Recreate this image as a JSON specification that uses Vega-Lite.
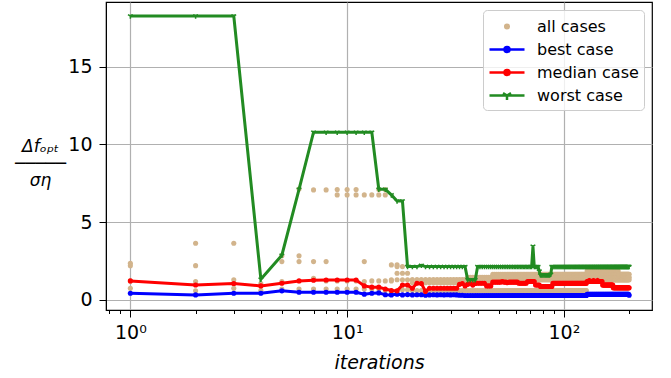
{
"$schema":"https://vega.github.io/schema/vega-lite/v6.json",
"width":546,"height":308,
"autosize":{"type":"none"},
"padding":{"left":106,"top":2,"right":19,"bottom":68},
"config":{"font":"DejaVu Sans","view":{"stroke":"black","strokeWidth":1.2},
"axis":{"domainColor":"black","tickColor":"black","labelColor":"black","titleColor":"black","labelFont":"DejaVu Sans","titleFont":"DejaVu Sans","labelFontSize":19,"titleFontSize":19,"titleFontWeight":"normal","gridColor":"#b0b0b0","gridWidth":1.2},
"legend":{"title":null,"orient":"top-right","offset":8,"padding":5,"fillColor":"rgba(255,255,255,0.8)","strokeColor":"#cccccc","cornerRadius":4,"labelFontSize":16,"labelFont":"DejaVu Sans","labelColor":"black","symbolSize":400,"symbolOffset":7.5,"labelOffset":18.5,"rowPadding":3}},
"data":{"values":[
{"i":1,"b":0.43,"m":1.22,"w":18.25,"a":[2.36,2.2,1.22,0.75]},
{"i":2,"b":0.32,"m":0.96,"w":18.25,"a":[3.64,2.2,1.18,0.58]},
{"i":3,"b":0.43,"m":1.05,"w":18.25,"a":[3.64,1.29,1.07,0.75]},
{"i":4,"b":0.43,"m":0.9,"w":1.33,"a":[1.05,0.6]},
{"i":5,"b":0.58,"m":1.07,"w":2.87,"a":[2.83,2.46,1.18,0.69]},
{"i":6,"b":0.49,"m":1.22,"w":7.11,"a":[7.13,2.83,2.46,0.7]},
{"i":7,"b":0.49,"m":1.26,"w":10.78,"a":[7.07,2.46,1.39,0.7]},
{"i":8,"b":0.49,"m":1.28,"w":10.78,"a":[7.07,2.46,1.22,0.7]},
{"i":9,"b":0.49,"m":1.28,"w":10.78,"a":[7.1,6.75,1.22,0.7]},
{"i":10,"b":0.49,"m":1.28,"w":10.78,"a":[7.1,6.75,1.22,0.7]},
{"i":11,"b":0.49,"m":1.28,"w":10.78,"a":[7.1,6.75,1.22,0.7]},
{"i":12,"b":0.37,"m":0.9,"w":10.78,"a":[6.75,2.46,1.18,0.7]},
{"i":13,"b":0.43,"m":0.82,"w":10.78,"a":[6.75,1.22,0.7]},
{"i":14,"b":0.45,"m":0.82,"w":7.11,"a":[7.1,6.75,1.22,0.7]},
{"i":15,"b":0.33,"m":0.7,"w":7.11,"a":[7.1,6.75,1.22,0.6]},
{"i":16,"b":0.32,"m":0.6,"w":6.75,"a":[2.25,1.29,1.22,0.5]},
{"i":17,"b":0.37,"m":0.58,"w":6.36,"a":[2.25,2.14,1.71,1.29,0.5]},
{"i":18,"b":0.32,"m":0.96,"w":6.36,"a":[2.14,1.71,1.29,0.65]},
{"i":19,"b":0.34,"m":0.96,"w":2.14,"a":[1.71,1.29,0.65]},
{"i":20,"b":0.32,"m":0.75,"w":2.14,"a":[1.3,1.1,0.6]},
{"i":21,"b":0.33,"m":1.07,"w":2.14,"a":[1.3,1.1,0.6]},
{"i":22,"b":0.33,"m":1.05,"w":2.22,"a":[1.3,1.1,0.6]},
{"i":23,"b":0.3,"m":0.54,"w":2.14,"a":[1.3,1.1,0.6]},
{"i":24,"b":0.32,"m":0.75,"w":2.14,"a":[1.3,1.1,0.6]},
{"i":25,"b":0.33,"m":0.75,"w":2.14,"a":[1.3,1.1,0.6]},
{"i":26,"b":0.32,"m":0.75,"w":2.14,"a":[1.3,1.1,0.6]},
{"i":27,"b":0.33,"m":0.75,"w":2.14,"a":[1.3,1.1,0.6]},
{"i":28,"b":0.32,"m":0.75,"w":2.14,"a":[1.3,1.1,0.6]},
{"i":29,"b":0.33,"m":0.75,"w":2.14,"a":[1.3,1.1,0.6]},
{"i":30,"b":0.32,"m":0.75,"w":2.14,"a":[1.3,1.1,0.6]},
{"i":31,"b":0.33,"m":0.75,"w":2.14,"a":[1.3,1.1,0.6]},
{"i":32,"b":0.32,"m":0.75,"w":2.14,"a":[1.3,1.1,0.6]},
{"i":33,"b":0.3,"m":1.0,"w":2.14,"a":[1.3,1.1,0.6]},
{"i":34,"b":0.3,"m":1.05,"w":2.14,"a":[1.3,1.1,0.6]},
{"i":35,"b":0.28,"m":0.9,"w":2.14,"a":[1.3,1.1,0.6]},
{"i":36,"b":0.28,"m":1.0,"w":1.29,"a":[1.45,1.3,1.1,0.6]},
{"i":37,"b":0.28,"m":1.05,"w":1.29,"a":[1.45,1.3,1.1,0.6]},
{"i":38,"b":0.28,"m":0.95,"w":1.29,"a":[1.45,1.3,1.1,0.6]},
{"i":39,"b":0.28,"m":1.05,"w":1.29,"a":[1.45,1.3,1.1,0.6]},
{"i":40,"b":0.28,"m":1.07,"w":2.14,"a":[1.45,1.3,1.1,0.6]},
{"i":41,"b":0.28,"m":1.07,"w":2.14,"a":[1.45,1.3,1.1,0.6]},
{"i":42,"b":0.28,"m":1.07,"w":2.14,"a":[1.45,1.3,1.1,0.6]},
{"i":43,"b":0.28,"m":1.07,"w":2.14,"a":[1.45,1.3,1.1,0.6]},
{"i":44,"b":0.28,"m":0.9,"w":2.14,"a":[1.45,1.3,1.1,0.6]},
{"i":45,"b":0.28,"m":0.9,"w":2.14,"a":[1.45,1.3,1.1,0.6]},
{"i":46,"b":0.28,"m":0.9,"w":2.14,"a":[1.45,1.3,1.1,0.6]},
{"i":47,"b":0.28,"m":1.14,"w":2.14,"a":[1.65,1.45,1.3,0.6]},
{"i":48,"b":0.28,"m":1.14,"w":2.14,"a":[1.65,1.45,1.3,0.6]},
{"i":49,"b":0.28,"m":1.14,"w":2.14,"a":[1.65,1.45,1.3,0.6]},
{"i":50,"b":0.28,"m":1.14,"w":2.14,"a":[1.65,1.45,1.3,0.6]},
{"i":51,"b":0.28,"m":1.14,"w":2.14,"a":[1.65,1.45,1.3,0.6]},
{"i":52,"b":0.28,"m":1.18,"w":2.14,"a":[1.65,1.45,1.3,0.6]},
{"i":53,"b":0.28,"m":1.14,"w":2.14,"a":[1.65,1.45,1.3,0.6]},
{"i":54,"b":0.28,"m":1.14,"w":2.14,"a":[1.65,1.45,1.3,0.6]},
{"i":55,"b":0.28,"m":1.1,"w":2.14,"a":[1.65,1.45,1.3,0.6]},
{"i":56,"b":0.28,"m":1.14,"w":2.14,"a":[1.65,1.45,1.3,0.6]},
{"i":57,"b":0.28,"m":1.14,"w":2.14,"a":[1.65,1.45,1.3,0.6]},
{"i":58,"b":0.28,"m":1.14,"w":2.14,"a":[1.65,1.45,1.3,0.6]},
{"i":59,"b":0.28,"m":1.14,"w":2.14,"a":[1.65,1.45,1.3,0.6]},
{"i":60,"b":0.28,"m":1.14,"w":2.14,"a":[1.65,1.45,1.3,0.6]},
{"i":61,"b":0.28,"m":1.14,"w":2.14,"a":[1.65,1.45,1.3,0.6]},
{"i":62,"b":0.28,"m":1.07,"w":2.14,"a":[1.65,1.45,1.3,0.6]},
{"i":63,"b":0.28,"m":1.07,"w":2.14,"a":[1.65,1.45,1.3,0.6]},
{"i":64,"b":0.28,"m":1.07,"w":2.14,"a":[1.65,1.45,1.3,0.6]},
{"i":65,"b":0.28,"m":1.07,"w":2.14,"a":[1.65,1.45,1.3,0.6]},
{"i":66,"b":0.28,"m":1.07,"w":2.14,"a":[1.65,1.45,1.3,0.6]},
{"i":67,"b":0.28,"m":1.07,"w":2.14,"a":[1.65,1.45,1.3,0.6]},
{"i":68,"b":0.28,"m":1.18,"w":2.14,"a":[1.65,1.45,1.3,0.6]},
{"i":69,"b":0.28,"m":1.18,"w":2.14,"a":[1.65,1.45,1.3,0.6]},
{"i":70,"b":0.28,"m":1.18,"w":2.14,"a":[1.65,1.45,1.3,0.6]},
{"i":71,"b":0.28,"m":1.18,"w":2.14,"a":[1.65,1.45,1.3,0.6]},
{"i":72,"b":0.28,"m":1.18,"w":3.45,"a":[1.65,1.45,1.3,0.6]},
{"i":73,"b":0.28,"m":1.18,"w":2.14,"a":[1.65,1.45,1.3,0.6]},
{"i":74,"b":0.28,"m":0.96,"w":2.14,"a":[1.65,1.45,1.3,0.6]},
{"i":75,"b":0.28,"m":0.96,"w":2.14,"a":[1.65,1.45,1.3,0.6]},
{"i":76,"b":0.28,"m":0.96,"w":2.14,"a":[1.65,1.45,1.3,0.6]},
{"i":77,"b":0.28,"m":0.96,"w":1.85,"a":[1.65,1.45,1.3,0.6]},
{"i":78,"b":0.28,"m":0.86,"w":1.6,"a":[1.65,1.45,1.3,0.6]},
{"i":79,"b":0.28,"m":0.86,"w":1.6,"a":[1.65,1.45,1.3,0.6]},
{"i":80,"b":0.28,"m":0.86,"w":1.6,"a":[1.65,1.45,1.3,0.6]},
{"i":81,"b":0.28,"m":0.86,"w":1.6,"a":[1.65,1.45,1.3,0.6]},
{"i":82,"b":0.28,"m":0.86,"w":1.6,"a":[1.65,1.45,1.3,0.6]},
{"i":83,"b":0.28,"m":0.86,"w":1.6,"a":[1.65,1.45,1.3,0.6]},
{"i":84,"b":0.28,"m":0.86,"w":1.6,"a":[1.65,1.45,1.3,0.6]},
{"i":85,"b":0.28,"m":0.86,"w":1.6,"a":[1.65,1.45,1.3,0.6]},
{"i":86,"b":0.28,"m":0.86,"w":1.6,"a":[1.65,1.45,1.3,0.6]},
{"i":87,"b":0.28,"m":0.86,"w":1.65,"a":[1.65,1.45,1.3,0.6]},
{"i":88,"b":0.28,"m":0.86,"w":2.14,"a":[1.65,1.45,1.3,0.6]},
{"i":89,"b":0.28,"m":1.07,"w":2.14,"a":[1.65,1.45,1.3,0.6]},
{"i":90,"b":0.28,"m":1.07,"w":2.14,"a":[1.65,1.45,1.3,0.6]},
{"i":91,"b":0.28,"m":1.07,"w":2.14,"a":[1.65,1.45,1.3,0.6]},
{"i":92,"b":0.28,"m":1.07,"w":2.14,"a":[1.65,1.45,1.3,0.6]},
{"i":93,"b":0.28,"m":1.07,"w":2.14,"a":[1.65,1.45,1.3,0.6]},
{"i":94,"b":0.28,"m":1.07,"w":2.14,"a":[1.65,1.45,1.3,0.6]},
{"i":95,"b":0.28,"m":1.07,"w":2.14,"a":[1.65,1.45,1.3,0.6]},
{"i":96,"b":0.28,"m":1.07,"w":2.14,"a":[1.65,1.45,1.3,0.6]},
{"i":97,"b":0.28,"m":1.07,"w":2.14,"a":[1.65,1.45,1.3,0.6]},
{"i":98,"b":0.28,"m":1.07,"w":2.14,"a":[1.65,1.45,1.3,0.6]},
{"i":99,"b":0.28,"m":1.07,"w":2.14,"a":[1.65,1.45,1.3,0.6]},
{"i":100,"b":0.28,"m":1.07,"w":2.14,"a":[1.65,1.45,1.3,0.6]},
{"i":101,"b":0.28,"m":1.07,"w":2.14,"a":[1.65,1.45,1.3,0.6]},
{"i":102,"b":0.28,"m":1.07,"w":2.14,"a":[1.65,1.45,1.3,0.6]},
{"i":103,"b":0.28,"m":1.07,"w":2.14,"a":[1.65,1.45,1.3,0.6]},
{"i":104,"b":0.28,"m":1.07,"w":2.14,"a":[1.65,1.45,1.3,0.6]},
{"i":105,"b":0.28,"m":1.07,"w":2.14,"a":[1.65,1.45,1.3,0.6]},
{"i":106,"b":0.28,"m":1.07,"w":2.14,"a":[1.65,1.45,1.3,0.6]},
{"i":107,"b":0.28,"m":1.07,"w":2.14,"a":[1.65,1.45,1.3,0.6]},
{"i":108,"b":0.28,"m":1.07,"w":2.14,"a":[1.65,1.45,1.3,0.6]},
{"i":109,"b":0.28,"m":1.07,"w":2.14,"a":[1.65,1.45,1.3,0.6]},
{"i":110,"b":0.28,"m":1.07,"w":2.14,"a":[1.65,1.45,1.3,0.6]},
{"i":111,"b":0.28,"m":1.07,"w":2.14,"a":[1.65,1.45,1.3,0.6]},
{"i":112,"b":0.28,"m":1.07,"w":2.14,"a":[1.65,1.45,1.3,0.6]},
{"i":113,"b":0.28,"m":1.07,"w":2.14,"a":[1.65,1.45,1.3,0.6]},
{"i":114,"b":0.28,"m":1.07,"w":2.14,"a":[1.65,1.45,1.3,0.6]},
{"i":115,"b":0.28,"m":1.07,"w":2.14,"a":[1.65,1.45,1.3,0.6]},
{"i":116,"b":0.28,"m":1.07,"w":2.14,"a":[1.65,1.45,1.3,0.6]},
{"i":117,"b":0.28,"m":1.07,"w":2.14,"a":[1.65,1.45,1.3,0.6]},
{"i":118,"b":0.28,"m":1.07,"w":2.14,"a":[1.65,1.45,1.3,0.6]},
{"i":119,"b":0.28,"m":1.07,"w":2.14,"a":[1.65,1.45,1.3,0.6]},
{"i":120,"b":0.28,"m":1.07,"w":2.14,"a":[1.65,1.45,1.3,0.6]},
{"i":121,"b":0.28,"m":1.07,"w":2.14,"a":[1.65,1.45,1.3,0.6]},
{"i":122,"b":0.28,"m":1.07,"w":2.14,"a":[1.65,1.45,1.3,0.6]},
{"i":123,"b":0.28,"m":1.07,"w":2.14,"a":[1.65,1.45,1.3,0.6]},
{"i":124,"b":0.28,"m":1.07,"w":2.14,"a":[1.65,1.45,1.3,0.6]},
{"i":125,"b":0.28,"m":1.07,"w":2.14,"a":[1.65,1.45,1.3,0.6]},
{"i":126,"b":0.28,"m":1.07,"w":2.14,"a":[1.65,1.45,1.3,0.6]},
{"i":127,"b":0.28,"m":1.07,"w":2.14,"a":[1.65,1.45,1.3,0.6]},
{"i":128,"b":0.36,"m":1.18,"w":2.14,"a":[1.85,1.65,1.45,1.3]},
{"i":129,"b":0.36,"m":1.18,"w":2.14,"a":[1.85,1.65,1.45,1.3]},
{"i":130,"b":0.36,"m":1.18,"w":2.14,"a":[1.85,1.65,1.45,1.3]},
{"i":131,"b":0.36,"m":1.25,"w":2.14,"a":[1.85,1.65,1.45,1.3]},
{"i":132,"b":0.36,"m":1.18,"w":2.14,"a":[1.85,1.65,1.45,1.3]},
{"i":133,"b":0.36,"m":1.18,"w":2.14,"a":[1.85,1.65,1.45,1.3]},
{"i":134,"b":0.36,"m":1.18,"w":2.14,"a":[1.85,1.65,1.45,1.3]},
{"i":135,"b":0.36,"m":1.18,"w":2.14,"a":[1.85,1.65,1.45,1.3]},
{"i":136,"b":0.36,"m":1.18,"w":2.14,"a":[1.85,1.65,1.45,1.3]},
{"i":137,"b":0.36,"m":1.25,"w":2.14,"a":[1.85,1.65,1.45,1.3]},
{"i":138,"b":0.36,"m":1.18,"w":2.14,"a":[1.85,1.65,1.45,1.3]},
{"i":139,"b":0.36,"m":1.18,"w":2.14,"a":[1.85,1.65,1.45,1.3]},
{"i":140,"b":0.36,"m":1.18,"w":2.14,"a":[1.85,1.65,1.45,1.3]},
{"i":141,"b":0.36,"m":1.18,"w":2.14,"a":[1.85,1.65,1.45,1.3]},
{"i":142,"b":0.36,"m":1.18,"w":2.14,"a":[1.85,1.65,1.45,1.3]},
{"i":143,"b":0.36,"m":1.25,"w":2.14,"a":[1.85,1.65,1.45,1.3]},
{"i":144,"b":0.36,"m":1.18,"w":2.14,"a":[1.85,1.65,1.45,1.3]},
{"i":145,"b":0.36,"m":1.18,"w":2.14,"a":[1.85,1.65,1.45,1.3]},
{"i":146,"b":0.36,"m":1.18,"w":2.14,"a":[1.85,1.65,1.45,1.3]},
{"i":147,"b":0.36,"m":1.18,"w":2.14,"a":[1.85,1.65,1.45,1.3]},
{"i":148,"b":0.36,"m":1.18,"w":2.14,"a":[1.85,1.65,1.45,1.3]},
{"i":149,"b":0.36,"m":1.18,"w":2.14,"a":[1.85,1.65,1.45,1.3]},
{"i":150,"b":0.36,"m":1.18,"w":2.14,"a":[1.85,1.65,1.45,1.3]},
{"i":151,"b":0.36,"m":0.96,"w":2.14,"a":[1.85,1.65,1.45,1.3]},
{"i":152,"b":0.36,"m":0.96,"w":2.14,"a":[1.85,1.65,1.45,1.3]},
{"i":153,"b":0.36,"m":0.96,"w":2.14,"a":[1.85,1.65,1.45,1.3]},
{"i":154,"b":0.36,"m":0.96,"w":2.14,"a":[1.85,1.65,1.45,1.3]},
{"i":155,"b":0.36,"m":0.96,"w":2.14,"a":[1.85,1.65,1.45,1.3]},
{"i":156,"b":0.36,"m":0.96,"w":2.14,"a":[1.85,1.65,1.45,1.3]},
{"i":157,"b":0.36,"m":0.96,"w":2.14,"a":[1.85,1.65,1.45,1.3]},
{"i":158,"b":0.36,"m":0.96,"w":2.14,"a":[1.85,1.65,1.45,1.3]},
{"i":159,"b":0.36,"m":0.96,"w":2.14,"a":[1.85,1.65,1.45,1.3]},
{"i":160,"b":0.36,"m":0.96,"w":2.14,"a":[1.85,1.65,1.45,1.3]},
{"i":161,"b":0.36,"m":0.96,"w":2.14,"a":[1.85,1.65,1.45,1.3]},
{"i":162,"b":0.36,"m":0.96,"w":2.14,"a":[1.85,1.65,1.45,1.3]},
{"i":163,"b":0.36,"m":0.96,"w":2.14,"a":[1.85,1.65,1.45,1.3]},
{"i":164,"b":0.36,"m":0.96,"w":2.14,"a":[1.85,1.65,1.45,1.3]},
{"i":165,"b":0.36,"m":0.96,"w":2.14,"a":[1.85,1.65,1.45,1.3]},
{"i":166,"b":0.36,"m":0.96,"w":2.14,"a":[1.85,1.65,1.45,1.3]},
{"i":167,"b":0.36,"m":0.96,"w":2.14,"a":[1.85,1.65,1.45,1.3]},
{"i":168,"b":0.36,"m":0.96,"w":2.14,"a":[1.85,1.65,1.45,1.3]},
{"i":169,"b":0.36,"m":0.78,"w":2.14,"a":[1.85,1.65,1.45,1.3]},
{"i":170,"b":0.36,"m":0.78,"w":2.14,"a":[1.85,1.65,1.45,1.3]},
{"i":171,"b":0.36,"m":0.78,"w":2.14,"a":[1.85,1.65,1.45,1.3]},
{"i":172,"b":0.36,"m":0.78,"w":2.14,"a":[1.85,1.65,1.45,1.3]},
{"i":173,"b":0.36,"m":0.78,"w":2.14,"a":[1.85,1.65,1.45,1.3]},
{"i":174,"b":0.36,"m":0.78,"w":2.14,"a":[1.85,1.65,1.45,1.3]},
{"i":175,"b":0.36,"m":0.78,"w":2.14,"a":[1.85,1.65,1.45,1.3]},
{"i":176,"b":0.36,"m":0.78,"w":2.14,"a":[1.85,1.65,1.45,1.3]},
{"i":177,"b":0.36,"m":0.78,"w":2.14,"a":[1.85,1.65,1.45,1.3]},
{"i":178,"b":0.36,"m":0.78,"w":2.14,"a":[1.85,1.65,1.45,1.3]},
{"i":179,"b":0.36,"m":0.78,"w":2.14,"a":[1.65,1.45,1.3]},
{"i":180,"b":0.36,"m":0.78,"w":2.14,"a":[1.65,1.45,1.3]},
{"i":181,"b":0.36,"m":0.78,"w":2.14,"a":[1.65,1.45,1.3]},
{"i":182,"b":0.36,"m":0.78,"w":2.14,"a":[1.65,1.45,1.3]},
{"i":183,"b":0.36,"m":0.78,"w":2.14,"a":[1.65,1.45,1.3]},
{"i":184,"b":0.36,"m":0.78,"w":2.14,"a":[1.65,1.45,1.3]},
{"i":185,"b":0.36,"m":0.78,"w":2.14,"a":[1.65,1.45,1.3]},
{"i":186,"b":0.36,"m":0.78,"w":2.14,"a":[1.65,1.45,1.3]},
{"i":187,"b":0.36,"m":0.78,"w":2.14,"a":[1.65,1.45,1.3]},
{"i":188,"b":0.36,"m":0.78,"w":2.14,"a":[1.65,1.45,1.3]},
{"i":189,"b":0.36,"m":0.78,"w":2.14,"a":[1.65,1.45,1.3]},
{"i":190,"b":0.36,"m":0.78,"w":2.14,"a":[1.65,1.45,1.3]},
{"i":191,"b":0.36,"m":0.78,"w":2.14,"a":[1.65,1.45,1.3]},
{"i":192,"b":0.36,"m":0.78,"w":2.14,"a":[1.65,1.45,1.3]},
{"i":193,"b":0.36,"m":0.78,"w":2.14,"a":[1.65,1.45,1.3]},
{"i":194,"b":0.36,"m":0.78,"w":2.14,"a":[1.65,1.45,1.3]},
{"i":195,"b":0.36,"m":0.78,"w":2.14,"a":[1.65,1.45,1.3]},
{"i":196,"b":0.36,"m":0.78,"w":2.14,"a":[1.65,1.45,1.3]},
{"i":197,"b":0.36,"m":0.78,"w":2.14,"a":[1.65,1.45,1.3]},
{"i":198,"b":0.36,"m":0.78,"w":2.14,"a":[1.65,1.45,1.3]},
{"i":199,"b":0.36,"m":0.78,"w":2.14,"a":[1.65,1.45,1.3]},
{"i":200,"b":0.3,"m":0.78,"w":2.14,"a":[1.65,1.45,1.3]}
]},
"resolve":{"axis":{"x":"independent"}},
"layer":[
{"transform":[{"flatten":["a"]}],
 "mark":{"type":"circle","size":26,"opacity":1},
 "encoding":{
  "x":{"field":"i","type":"quantitative","scale":{"type":"log","domain":[0.772,255],"nice":false},
       "axis":{"orient":"bottom","values":[1,10,100],"labelExpr":"datum.value==1?'10⁰':datum.value==10?'10¹':'10²'","tickSize":7,"labelPadding":6,"grid":true,"labelFlush":false,"labelOverlap":false,"title":"iterations","titleFontStyle":"italic","titleBaseline":"alphabetic","titleY":58}},
  "y":{"field":"a","type":"quantitative","scale":{"domain":[-0.65,19.15],"nice":false,"zero":false},
       "axis":{"values":[0,5,10,15],"tickSize":7,"labelPadding":7,"grid":true,"title":["Δfₒₚₜ","─────","ση"],"titleAngle":0,"titleX":-66,"titleY":144,"titleAlign":"center","titleBaseline":"middle","titleFontStyle":"italic","titleFontSize":17,"titleLineHeight":17}},
  "color":{"datum":"a","type":"nominal","scale":{"domain":["a","b","m","w"],"range":["#d2b48c","#0000ff","#ff0000","#228b22"]},
    "legend":{"title":null,
      "labelExpr":"datum.value=='a'?'all cases':datum.value=='b'?'best case':datum.value=='m'?'median case':'worst case'",
      "encode":{"symbols":{"update":{
        "shape":{"signal":"datum.value=='a'?'M-0.18,0A0.18,0.18 0 1,0 0.18,0A0.18,0.18 0 1,0 -0.18,0Z':datum.value=='w'?'M-1.75,0H1.75M0,0V0.45M0,0L-0.4,-0.23M0,0L0.4,-0.23':'M-1.75,0H1.75M-0.25,0A0.25,0.25 0 1,0 0.25,0A0.25,0.25 0 1,0 -0.25,0Z'"},
        "size":{"value":400},
        "fill":{"scale":"color","field":"value"},
        "stroke":{"scale":"color","field":"value"},
        "strokeWidth":{"value":2.5},
        "opacity":{"value":1}}}}}}
 }},
{"transform":[{"fold":["b","m","w"],"as":["k","v"]}],
 "mark":{"type":"line","strokeWidth":3},
 "encoding":{
  "x":{"field":"i","type":"quantitative","scale":{"type":"log","domain":[0.772,255],"nice":false},
       "axis":{"orient":"bottom","values":[0.8,0.9,2,3,4,5,6,7,8,9,20,30,40,50,60,70,80,90,200],"tickSize":3.5,"labels":false,"grid":false,"domain":false,"title":null}},
  "y":{"field":"v","type":"quantitative","scale":{"domain":[-0.65,19.15],"nice":false,"zero":false},
       "axis":{"values":[0,5,10,15],"tickSize":7,"labelPadding":7,"grid":true,"title":["Δfₒₚₜ","─────","ση"],"titleAngle":0,"titleX":-66,"titleY":144,"titleAlign":"center","titleBaseline":"middle","titleFontStyle":"italic","titleFontSize":17,"titleLineHeight":17}},
  "color":{"field":"k","type":"nominal","scale":{"domain":["a","b","m","w"],"range":["#d2b48c","#0000ff","#ff0000","#228b22"]},
    "legend":{"title":null,
      "labelExpr":"datum.value=='a'?'all cases':datum.value=='b'?'best case':datum.value=='m'?'median case':'worst case'",
      "encode":{"symbols":{"update":{
        "shape":{"signal":"datum.value=='a'?'M-0.18,0A0.18,0.18 0 1,0 0.18,0A0.18,0.18 0 1,0 -0.18,0Z':datum.value=='w'?'M-1.75,0H1.75M0,0V0.45M0,0L-0.4,-0.23M0,0L0.4,-0.23':'M-1.75,0H1.75M-0.25,0A0.25,0.25 0 1,0 0.25,0A0.25,0.25 0 1,0 -0.25,0Z'"},
        "size":{"value":400},
        "fill":{"scale":"color","field":"value"},
        "stroke":{"scale":"color","field":"value"},
        "strokeWidth":{"value":2.5},
        "opacity":{"value":1}}}}}}
 }},
{"transform":[{"fold":["b","m"],"as":["k","v"]}],
 "mark":{"type":"circle","size":26,"opacity":1},
 "encoding":{
  "x":{"field":"i","type":"quantitative","scale":{"type":"log","domain":[0.772,255],"nice":false},"axis":null},
  "y":{"field":"v","type":"quantitative","scale":{"domain":[-0.65,19.15],"nice":false,"zero":false},
       "axis":{"values":[0,5,10,15],"tickSize":7,"labelPadding":7,"grid":true,"title":["Δfₒₚₜ","─────","ση"],"titleAngle":0,"titleX":-66,"titleY":144,"titleAlign":"center","titleBaseline":"middle","titleFontStyle":"italic","titleFontSize":17,"titleLineHeight":17}},
  "color":{"field":"k","type":"nominal","scale":{"domain":["a","b","m","w"],"range":["#d2b48c","#0000ff","#ff0000","#228b22"]},
    "legend":{"title":null,
      "labelExpr":"datum.value=='a'?'all cases':datum.value=='b'?'best case':datum.value=='m'?'median case':'worst case'",
      "encode":{"symbols":{"update":{
        "shape":{"signal":"datum.value=='a'?'M-0.18,0A0.18,0.18 0 1,0 0.18,0A0.18,0.18 0 1,0 -0.18,0Z':datum.value=='w'?'M-1.75,0H1.75M0,0V0.45M0,0L-0.4,-0.23M0,0L0.4,-0.23':'M-1.75,0H1.75M-0.25,0A0.25,0.25 0 1,0 0.25,0A0.25,0.25 0 1,0 -0.25,0Z'"},
        "size":{"value":400},
        "fill":{"scale":"color","field":"value"},
        "stroke":{"scale":"color","field":"value"},
        "strokeWidth":{"value":2.5},
        "opacity":{"value":1}}}}}}
 }},
{"mark":{"type":"point","shape":"M0,0L0,1M0,0L-0.87,-0.5M0,0L0.87,-0.5","filled":false,"size":30,"strokeWidth":1.5,"opacity":1},
 "encoding":{
  "x":{"field":"i","type":"quantitative","scale":{"type":"log","domain":[0.772,255],"nice":false},"axis":null},
  "y":{"field":"w","type":"quantitative","scale":{"domain":[-0.65,19.15],"nice":false,"zero":false},
       "axis":{"values":[0,5,10,15],"tickSize":7,"labelPadding":7,"grid":true,"title":["Δfₒₚₜ","─────","ση"],"titleAngle":0,"titleX":-66,"titleY":144,"titleAlign":"center","titleBaseline":"middle","titleFontStyle":"italic","titleFontSize":17,"titleLineHeight":17}},
  "color":{"datum":"w","type":"nominal","scale":{"domain":["a","b","m","w"],"range":["#d2b48c","#0000ff","#ff0000","#228b22"]},
    "legend":{"title":null,
      "labelExpr":"datum.value=='a'?'all cases':datum.value=='b'?'best case':datum.value=='m'?'median case':'worst case'",
      "encode":{"symbols":{"update":{
        "shape":{"signal":"datum.value=='a'?'M-0.18,0A0.18,0.18 0 1,0 0.18,0A0.18,0.18 0 1,0 -0.18,0Z':datum.value=='w'?'M-1.75,0H1.75M0,0V0.45M0,0L-0.4,-0.23M0,0L0.4,-0.23':'M-1.75,0H1.75M-0.25,0A0.25,0.25 0 1,0 0.25,0A0.25,0.25 0 1,0 -0.25,0Z'"},
        "size":{"value":400},
        "fill":{"scale":"color","field":"value"},
        "stroke":{"scale":"color","field":"value"},
        "strokeWidth":{"value":2.5},
        "opacity":{"value":1}}}}}}
 }}
]
}
